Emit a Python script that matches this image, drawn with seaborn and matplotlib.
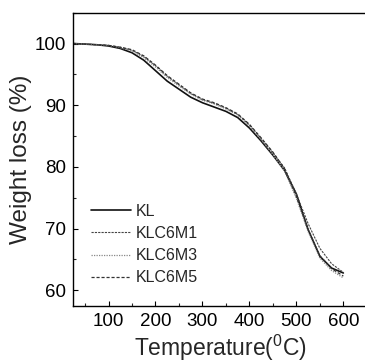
import matplotlib
matplotlib.use("Agg")
import matplotlib.pyplot as plt
import seaborn as sns
import pandas as pd
from matplotlib.ticker import MultipleLocator

temperature = [25, 50, 75, 100, 125, 150, 175, 200, 225, 250, 275, 300, 325, 350,
               375, 400, 425, 450, 475, 500, 525, 550, 575, 600]
kl = [100.0, 99.9, 99.8, 99.6, 99.2, 98.5, 97.3, 95.6, 93.9, 92.6, 91.3, 90.4, 89.7, 89.0,
      88.0, 86.3, 84.2, 81.9, 79.4, 75.6, 69.8, 65.5, 63.6, 62.8]
klc6m1 = [100.0, 99.9, 99.8, 99.7, 99.4, 98.9, 97.9, 96.4, 94.7, 93.3, 91.9, 90.9, 90.3, 89.5,
          88.5, 86.8, 84.6, 82.3, 79.8, 75.6, 70.8, 66.8, 64.3, 62.9]
klc6m3 = [100.0, 99.9, 99.8, 99.7, 99.3, 98.8, 97.7, 96.2, 94.5, 93.1, 91.8, 90.8, 90.2, 89.4,
          88.4, 86.6, 84.4, 82.0, 79.3, 74.9, 69.5, 65.2, 63.2, 62.0]
klc6m5 = [100.0, 99.9, 99.8, 99.7, 99.4, 99.0, 98.0, 96.5, 94.8, 93.4, 92.0, 91.0, 90.4, 89.6,
          88.6, 86.9, 84.7, 82.4, 79.7, 75.2, 69.9, 65.6, 63.5, 62.3]
series_names = ["KL", "KLC6M1", "KLC6M3", "KLC6M5"]

df = pd.concat([
    pd.DataFrame({"T": temperature, "W": vals, "s": name})
    for name, vals in zip(series_names, [kl, klc6m1, klc6m3, klc6m5])
])

sns.set_style("ticks")
plt.rcParams["font.family"] = ["Liberation Sans", "DejaVu Sans"]
plt.rcParams["mathtext.fontset"] = "custom"
plt.rcParams["mathtext.rm"] = "Liberation Sans"
plt.rcParams["mathtext.it"] = "Liberation Sans"

fig = plt.figure(figsize=(3.65, 3.64), dpi=100)
ax = fig.add_axes([0.2008, 0.1602, 0.8042, 0.805])

styles = {
    "KL": dict(color="#111111", lw=1.2, ls="-"),
    "KLC6M1": dict(color="#444444", lw=0.8, ls=(0, (2, 1))),
    "KLC6M3": dict(color="#888888", lw=0.9, ls=(0, (1, 1))),
    "KLC6M5": dict(color="#333333", lw=0.9, ls=(0, (2.5, 1.5))),
}
for name in series_names:
    sns.lineplot(data=df[df.s == name], x="T", y="W", ax=ax, label=name,
                 **styles[name])

ax.set_xlim(25, 650)
ax.set_ylim(57.5, 105)
ax.xaxis.set_major_locator(MultipleLocator(100))
ax.xaxis.set_minor_locator(MultipleLocator(50))
ax.yaxis.set_major_locator(MultipleLocator(10))
ax.yaxis.set_minor_locator(MultipleLocator(5))
ax.set_xticks([100, 200, 300, 400, 500, 600])
ax.tick_params(which="major", direction="in", length=3.5, width=0.8, labelsize=13.5, pad=5,
               colors="black")
ax.tick_params(which="minor", direction="in", length=2, width=0.8)
for sp in ax.spines.values():
    sp.set_linewidth(1.0)
    sp.set_color("black")

ax.set_xlabel(r"Temperature($^{\mathregular{0}}$C)", fontsize=16.5, labelpad=2)
ax.set_ylabel("Weight loss (%)", fontsize=17.5, labelpad=2)

leg = ax.legend(loc="lower left", bbox_to_anchor=(0.01, 0.02), frameon=False, fontsize=11.5,
                handlelength=2.5, handletextpad=0.3, labelspacing=0.45)

fig.savefig("out.png", dpi=100)
